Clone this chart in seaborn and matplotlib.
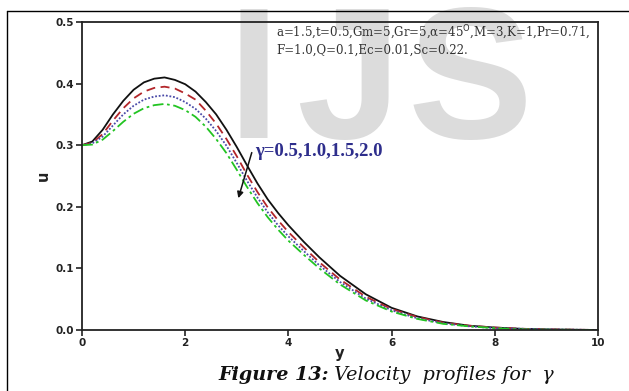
import matplotlib
matplotlib.use("Agg")
import matplotlib.pyplot as plt
from matplotlib.lines import Line2D
import seaborn as sns
import pandas as pd

# ---- data ----
y_vals = [0, 0.2, 0.4, 0.6, 0.8, 1.0, 1.2, 1.4, 1.6, 1.8, 2.0, 2.2, 2.4, 2.6, 2.8,
          3.0, 3.2, 3.4, 3.6, 3.8, 4.0, 4.3, 4.6, 5.0, 5.5, 6.0, 6.5, 7.0, 7.5,
          8.0, 8.5, 9.0, 10.0]
u_g05 = [0.300, 0.306, 0.325, 0.350, 0.372, 0.390, 0.402, 0.408, 0.410, 0.406, 0.399,
         0.387, 0.370, 0.350, 0.325, 0.297, 0.267, 0.238, 0.212, 0.190, 0.170, 0.143,
         0.118, 0.088, 0.058, 0.036, 0.022, 0.013, 0.007, 0.004, 0.002, 0.001, 0.000]
u_g10 = [0.300, 0.304, 0.318, 0.340, 0.360, 0.376, 0.387, 0.393, 0.395, 0.392, 0.384,
         0.374, 0.356, 0.335, 0.310, 0.282, 0.252, 0.224, 0.199, 0.178, 0.159, 0.134,
         0.110, 0.082, 0.054, 0.034, 0.021, 0.012, 0.007, 0.004, 0.002, 0.001, 0.000]
u_g15 = [0.300, 0.303, 0.314, 0.332, 0.350, 0.364, 0.374, 0.379, 0.381, 0.378, 0.370,
         0.359, 0.343, 0.323, 0.299, 0.271, 0.242, 0.215, 0.191, 0.170, 0.152, 0.128,
         0.105, 0.078, 0.051, 0.032, 0.019, 0.011, 0.006, 0.003, 0.002, 0.001, 0.000]
u_g20 = [0.300, 0.301, 0.309, 0.323, 0.338, 0.351, 0.360, 0.365, 0.367, 0.364, 0.357,
         0.346, 0.330, 0.310, 0.287, 0.260, 0.232, 0.206, 0.183, 0.163, 0.145, 0.122,
         0.100, 0.074, 0.048, 0.030, 0.018, 0.010, 0.006, 0.003, 0.001, 0.0005, 0.000]
gammas = ["0.5", "1.0", "1.5", "2.0"]
x_ticks = [0, 2, 4, 6, 8, 10]
y_ticks = [0.0, 0.1, 0.2, 0.3, 0.4, 0.5]
watermark = ["I", "J", "S"]

df = pd.concat([
    pd.DataFrame({"y": y_vals, "u": u, "gamma": g})
    for g, u in zip(gammas, [u_g05, u_g10, u_g15, u_g20])
])

sns.set_style("white")

W, H = 629, 391
fig = plt.figure(figsize=(W / 100, H / 100), dpi=100)
ax = fig.add_axes([82 / W, 1 - 330 / H, (598 - 82) / W, (330 - 22) / H])
ax.patch.set_alpha(0)

# watermark letters (behind the plot)
for letter, xpx in zip(watermark, [228, 296, 408]):
    fig.text(xpx / W, 1 - 138 / H, letter, fontsize=135, fontweight="bold",
             color="#dcdcdc", family="Liberation Sans", ha="left",
             va="baseline", zorder=-5)

palette = {"0.5": "#111111", "1.0": "#b3262a", "1.5": "#4a4aa8", "2.0": "#22c422"}
dashes = {"0.5": "", "1.0": (5, 3), "1.5": (1, 1), "2.0": (6, 2, 1.5, 2)}
sns.lineplot(data=df, x="y", y="u", hue="gamma", style="gamma", palette=palette,
             dashes=dashes, linewidth=1.3, legend=False, ax=ax, sort=False)

ax.set_xlim(0, 10)
ax.set_ylim(0, 0.5)
ax.set_xticks(x_ticks)
ax.set_yticks(y_ticks)
ax.set_xticklabels([f"{t}" for t in x_ticks])
ax.set_yticklabels([f"{t:.1f}" for t in y_ticks])
for s in ax.spines.values():
    s.set_linewidth(1.3)
    s.set_color("#222222")
    s.set_visible(True)
ax.tick_params(direction="out", length=4, width=1.2, color="#222222",
               labelsize=7.5, pad=2, left=True, bottom=True)
for lab in ax.get_xticklabels() + ax.get_yticklabels():
    lab.set_fontweight("bold")
    lab.set_color("#222222")
ax.set_xlabel("y", fontsize=10.5, fontweight="bold", labelpad=-2, color="#222222")
ax.set_ylabel("u", fontsize=10.5, fontweight="bold", labelpad=3, color="#222222")

# parameter text
ax.text(276 / W, 1 - 33 / H,
        "a=1.5,t=0.5,Gm=5,Gr=5,α=45$^{\\mathrm{O}}$,M=3,K=1,Pr=0.71,",
        transform=fig.transFigure, family="DejaVu Serif", fontsize=8.5,
        ha="left", va="center", color="#333333")
ax.text(276 / W, 1 - 50 / H, "F=1.0,Q=0.1,Ec=0.01,Sc=0.22.",
        transform=fig.transFigure, family="DejaVu Serif", fontsize=8.5,
        ha="left", va="center", color="#333333")

# gamma label and arrow
ax.text(255 / W, 1 - 152 / H, "γ=0.5,1.0,1.5,2.0", transform=fig.transFigure,
        family="Liberation Serif", fontsize=13.5, fontweight="bold",
        color="#2e2e8c", ha="left", va="center")
ax.annotate("", xy=(3.03, 0.214), xytext=(3.29, 0.288),
            arrowprops=dict(arrowstyle="-|>", color="#111111", lw=1.1,
                            mutation_scale=9, shrinkA=0, shrinkB=0))

# caption
t1 = fig.text(218 / W, 1 - 380 / H, "Figure 13:", family="DejaVu Serif",
              fontsize=13.8, fontweight="bold", style="italic", ha="left",
              va="baseline", color="#111111")
ax.annotate(" Velocity  profiles for  γ", xy=(1, 0), xycoords=t1,
            family="DejaVu Serif", fontsize=13.8, style="italic", ha="left",
            va="bottom", color="#111111", annotation_clip=False)

# outer border
fig.add_artist(Line2D([7 / W, 7 / W], [0, 1 - 11 / H], color="black", lw=1.0,
                      transform=fig.transFigure))
fig.add_artist(Line2D([7 / W, 1], [1 - 11 / H, 1 - 11 / H], color="black", lw=1.0,
                      transform=fig.transFigure))

fig.savefig("out.png", dpi=100)
